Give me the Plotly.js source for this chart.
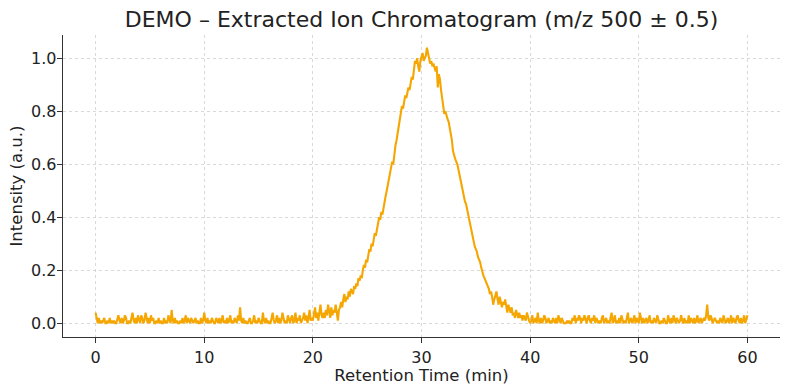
<!DOCTYPE html>
<html>
<head>
<meta charset="utf-8">
<script src="https://cdn.plot.ly/plotly-3.0.1.min.js"></script>
<style>html,body{margin:0;padding:0;background:#fff;}#chart{width:790px;height:390px;}</style>
</head>
<body>
<div id="chart"></div>
<script>
// Retention time sampling (minutes)
const timeStart = 0;
const timeStep = 0.1;

// Intensity (a.u.), one row per minute (10 samples each)
const intensity = [
  0.04,0.01,0.00,0.02,0.00,0.01,0.00,0.01,0.02,0.00,
  0.00,0.01,0.00,0.02,0.00,0.01,0.00,0.01,0.00,0.00,
  0.02,0.03,0.01,0.00,0.02,0.00,0.01,0.03,0.02,0.00,
  0.00,0.01,0.00,0.02,0.04,0.01,0.00,0.02,0.00,0.03,
  0.01,0.00,0.03,0.02,0.00,0.01,0.04,0.01,0.00,0.02,
  0.00,0.03,0.01,0.02,0.00,0.00,0.01,0.00,0.02,0.00,
  0.01,0.00,0.00,0.02,0.00,0.01,0.00,0.03,0.01,0.00,
  0.05,0.01,0.00,0.02,0.00,0.01,0.00,0.00,0.01,0.00,
  0.02,0.00,0.01,0.03,0.00,0.02,0.01,0.00,0.02,0.01,
  0.00,0.01,0.02,0.00,0.01,0.00,0.00,0.02,0.00,0.01,
  0.04,0.01,0.00,0.02,0.00,0.01,0.00,0.02,0.01,0.00,
  0.00,0.02,0.01,0.00,0.02,0.00,0.01,0.03,0.00,0.01,
  0.00,0.02,0.00,0.01,0.03,0.00,0.01,0.00,0.02,0.01,
  0.00,0.03,0.01,0.06,0.01,0.00,0.02,0.00,0.01,0.00,
  0.00,0.01,0.02,0.00,0.00,0.01,0.03,0.00,0.01,0.00,
  0.02,0.01,0.00,0.00,0.04,0.01,0.00,0.02,0.00,0.01,
  0.00,0.00,0.02,0.04,0.01,0.00,0.01,0.03,0.00,0.02,
  0.00,0.01,0.04,0.02,0.00,0.01,0.00,0.03,0.01,0.00,
  0.02,0.03,0.00,0.01,0.04,0.00,0.02,0.01,0.03,0.00,
  0.01,0.02,0.04,0.01,0.03,0.00,0.02,0.05,0.01,0.02,
  0.01,0.03,0.06,0.02,0.04,0.01,0.05,0.07,0.03,0.02,
  0.04,0.02,0.05,0.03,0.07,0.04,0.02,0.06,0.03,0.05,
  0.04,0.07,0.03,0.01,0.05,0.06,0.08,0.06,0.09,0.11,
  0.08,0.10,0.09,0.12,0.10,0.13,0.12,0.11,0.14,0.13,
  0.15,0.14,0.17,0.16,0.18,0.17,0.20,0.22,0.21,0.24,
  0.23,0.26,0.28,0.27,0.30,0.29,0.32,0.34,0.33,0.36,
  0.38,0.40,0.39,0.42,0.41,0.44,0.46,0.48,0.50,0.52,
  0.54,0.56,0.59,0.61,0.60,0.64,0.67,0.69,0.72,0.75,
  0.77,0.80,0.82,0.81,0.84,0.86,0.85,0.87,0.89,0.88,
  0.90,0.93,0.92,0.97,0.99,0.98,1.00,0.97,0.95,0.99,
  1.01,1.02,0.99,1.00,1.01,1.04,1.02,1.00,0.98,0.99,
  0.97,0.98,0.96,0.95,0.97,0.89,0.94,0.92,0.88,0.85,
  0.83,0.79,0.80,0.78,0.77,0.76,0.74,0.72,0.69,0.65,
  0.63,0.62,0.61,0.60,0.58,0.56,0.53,0.52,0.50,0.48,
  0.46,0.45,0.43,0.41,0.39,0.36,0.35,0.33,0.31,0.29,
  0.28,0.27,0.25,0.24,0.23,0.21,0.19,0.18,0.17,0.16,
  0.15,0.14,0.13,0.11,0.12,0.10,0.07,0.09,0.11,0.12,
  0.09,0.07,0.10,0.08,0.06,0.08,0.07,0.09,0.06,0.04,
  0.07,0.05,0.04,0.06,0.03,0.04,0.02,0.05,0.03,0.02,
  0.04,0.02,0.03,0.01,0.03,0.02,0.01,0.04,0.02,0.01,
  0.00,0.01,0.03,0.00,0.01,0.02,0.00,0.04,0.01,0.00,
  0.02,0.00,0.01,0.03,0.02,0.00,0.01,0.02,0.00,0.01,
  0.00,0.02,0.01,0.00,0.02,0.00,0.03,0.01,0.00,0.02,
  0.01,0.00,0.00,0.00,0.01,0.00,0.01,0.00,0.00,0.02,
  0.01,0.03,0.00,0.02,0.01,0.03,0.02,0.00,0.02,0.01,
  0.03,0.01,0.00,0.02,0.03,0.01,0.00,0.02,0.01,0.03,
  0.00,0.02,0.01,0.00,0.01,0.00,0.02,0.03,0.00,0.01,
  0.02,0.00,0.01,0.00,0.02,0.04,0.00,0.01,0.03,0.00,
  0.01,0.00,0.02,0.00,0.03,0.01,0.00,0.01,0.00,0.02,
  0.04,0.00,0.01,0.02,0.00,0.01,0.03,0.00,0.02,0.01,
  0.00,0.04,0.01,0.00,0.02,0.00,0.01,0.02,0.00,0.01,
  0.03,0.00,0.01,0.00,0.02,0.01,0.00,0.03,0.01,0.00,
  0.00,0.01,0.00,0.02,0.01,0.00,0.00,0.03,0.01,0.00,
  0.02,0.00,0.03,0.01,0.00,0.02,0.01,0.00,0.01,0.03,
  0.01,0.00,0.02,0.00,0.01,0.00,0.03,0.00,0.02,0.01,
  0.00,0.02,0.00,0.01,0.03,0.00,0.01,0.02,0.00,0.01,
  0.02,0.01,0.03,0.07,0.02,0.01,0.03,0.02,0.00,0.01,
  0.02,0.01,0.00,0.01,0.00,0.02,0.01,0.00,0.03,0.01,
  0.00,0.01,0.02,0.00,0.01,0.03,0.00,0.02,0.01,0.00,
  0.02,0.03,0.01,0.00,0.02,0.00,0.01,0.03,0.00,0.02,
  0.03
];

const xTicks = [0, 10, 20, 30, 40, 50, 60];
const yTicks = [0.0, 0.2, 0.4, 0.6, 0.8, 1.0];
const yTickLabels = ['0.0', '0.2', '0.4', '0.6', '0.8', '1.0'];

const FONT = 'DejaVu Sans, Verdana, sans-serif';

const trace = {
  type: 'scatter',
  mode: 'lines',
  x0: timeStart,
  dx: timeStep,
  y: intensity,
  line: {color: '#F5A600', width: 2.1},
  hoverinfo: 'skip'
};

const axisCommon = {
  showline: true,
  linecolor: '#333333',
  linewidth: 1.3,
  ticks: 'outside',
  ticklen: 5,
  tickwidth: 1.2,
  tickcolor: '#333333',
  showgrid: true,
  gridcolor: '#cfcfcf',
  gridwidth: 0.8,
  griddash: '3px,3px',
  zeroline: false,
  mirror: false,
  tickfont: {family: FONT, size: 16, color: '#222222'}
};

const layout = {
  width: 790,
  height: 390,
  margin: {l: 63, r: 10, t: 35, b: 53},
  paper_bgcolor: '#ffffff',
  plot_bgcolor: '#ffffff',
  showlegend: false,
  title: {
    text: 'DEMO – Extracted Ion Chromatogram (m/z 500 ± 0.5)',
    font: {family: FONT, size: 22, color: '#222222'},
    x: 0.5, xref: 'paper', xanchor: 'center',
    y: 0.95, yref: 'container', yanchor: 'middle'
  },
  xaxis: Object.assign({}, axisCommon, {
    range: [-3, 63],
    tickvals: xTicks,
    title: {text: 'Retention Time (min)', font: {family: FONT, size: 16.5, color: '#222222'}, standoff: 0}
  }),
  yaxis: Object.assign({}, axisCommon, {
    range: [-0.052, 1.088],
    tickvals: yTicks,
    ticktext: yTickLabels,
    ticklabelstandoff: -3,
    title: {text: 'Intensity (a.u.)', font: {family: FONT, size: 16.5, color: '#222222'}, standoff: 4}
  })
};

Plotly.newPlot('chart', [trace], layout, {staticPlot: true, displayModeBar: false});
</script>
</body>
</html>
